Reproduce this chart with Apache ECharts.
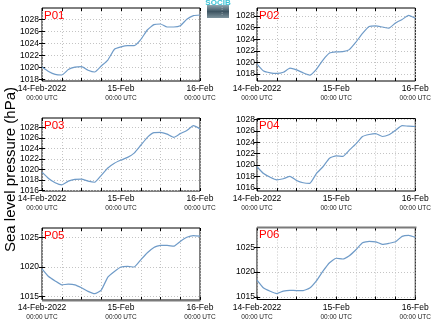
<!DOCTYPE html>
<html><head><meta charset="utf-8">
<script src="https://cdn.jsdelivr.net/npm/echarts@6/dist/echarts.min.js"></script>
<style>html,body{margin:0;padding:0;background:#fff}#c{width:434px;height:327px}</style>
</head><body><div id="c"></div><script>
// ---- data ----
const hours = [0,2,4,6,8,10,12,14,16,18,20,22,24,26,28,30,32,34,36,38,40,42,44,46,48];
const xTickLabels = ['14-Feb-2022','15-Feb','16-Feb'];
const xTickHours = [0,24,48];
const xSubLabel = '00:00 UTC';
const panelNames = ['P01','P02','P03','P04','P05','P06'];
const p01 = [1020.05,1019.3,1018.8,1018.7,1019.6,1020.0,1020.1,1019.5,1019.2,1020.2,1021.2,1023.0,1023.4,1023.6,1023.6,1024.6,1026.2,1027.1,1027.2,1026.7,1026.7,1026.9,1028.0,1028.6,1028.7];
const p02 = [1019.7,1018.5,1018.2,1018.1,1018.3,1019.0,1018.7,1018.2,1017.8,1018.8,1020.4,1021.6,1021.8,1021.85,1022.2,1023.5,1025.0,1026.2,1026.3,1026.1,1025.9,1026.8,1027.4,1028.1,1027.6];
const p03 = [1019.5,1018.3,1017.5,1017.1,1017.8,1018.15,1018.2,1017.8,1017.6,1018.9,1020.3,1021.2,1021.8,1022.3,1023.1,1024.6,1026.1,1027.0,1027.05,1026.7,1026.1,1026.8,1027.4,1028.3,1027.7];
const p04 = [1019.7,1018.5,1017.85,1017.4,1017.6,1018.0,1017.3,1016.9,1016.8,1018.5,1019.7,1021.2,1021.6,1021.5,1022.6,1023.7,1025.0,1025.35,1025.5,1025.0,1025.3,1026.1,1026.9,1026.8,1026.75];
const p05 = [1019.7,1018.4,1017.65,1017.0,1017.1,1017.0,1016.5,1015.9,1015.5,1016.1,1018.3,1019.25,1020.0,1020.1,1020.0,1021.2,1022.4,1023.3,1023.65,1023.65,1023.5,1024.3,1025.0,1025.3,1025.2];
const p06 = [1018.4,1016.8,1016.15,1015.7,1016.2,1016.35,1016.3,1016.3,1016.8,1018.25,1020.2,1021.9,1022.8,1022.65,1023.3,1024.5,1025.9,1026.2,1026.1,1025.6,1025.8,1026.1,1027.2,1027.4,1027.0];
const yTicks01 = [1018,1020,1022,1024,1026,1028];
const yTicks02 = [1018,1020,1022,1024,1026,1028];
const yTicks03 = [1016,1018,1020,1022,1024,1026,1028];
const yTicks04 = [1016,1018,1020,1022,1024,1026,1028];
const yTicks05 = [1015,1020,1025];
const yTicks06 = [1015,1020,1025];
const yTitle = 'Sea level pressure (hPa)';
const logoText = 'SOCIB';

// ---- layout ----
const series = [p01,p02,p03,p04,p05,p06];
const ticks = [yTicks01,yTicks02,yTicks03,yTicks04,yTicks05,yTicks06];
const boxes = [
  {left:42, top:8, width:158, height:73, ymin:1017.7, ymax:1029.87},
  {left:257, top:8, width:159, height:73, ymin:1016.79, ymax:1029.38},
  {left:42, top:118, width:158, height:73, ymin:1015.94, ymax:1029.76},
  {left:257, top:118.5, width:159, height:72.5, ymin:1015.45, ymax:1028.15},
  {left:42, top:228, width:158, height:72, ymin:1014.44, ymax:1026.57},
  {left:257, top:227.5, width:159, height:72, ymin:1014.5, ymax:1028.98}
];
const FONT = 'Liberation Sans';
const gridLine = {show:true, lineStyle:{color:'#c4c4c4', width:1, type:[1,2]}};
const tickStyle = {show:true, inside:true, length:3, lineStyle:{color:'#000', width:1}};

const grid=[], xAxis=[], yAxis=[], sers=[], graphic=[];
boxes.forEach((b,i)=>{
  grid.push({left:b.left, top:b.top, width:b.width, height:b.height, show:true, borderColor:'#000', borderWidth:1, backgroundColor:'transparent', containLabel:false});
  xAxis.push({gridIndex:i, type:'value', min:0, max:48, interval:6, position:'bottom',
    axisLine:{show:false}, axisTick:tickStyle, splitLine:gridLine,
    axisLabel:{show:true, margin:3, showMinLabel:true, showMaxLabel:true, hideOverlap:false,
      formatter:v=>{const k=xTickHours.indexOf(v); return k<0?'':`{a|${xTickLabels[k]}}\n{b|${xSubLabel}}`;},
      rich:{a:{fontFamily:FONT, fontSize:8.5, color:'#000', lineHeight:10, align:'center'},
            b:{fontFamily:FONT, fontSize:6.5, color:'#222', lineHeight:9, align:'center'}}}
  });
  xAxis.push({gridIndex:i, type:'value', min:0, max:48, interval:6, position:'top',
    axisLine:{show:false}, axisTick:tickStyle, splitLine:{show:false}, axisLabel:{show:false}});
  yAxis.push({gridIndex:i, type:'value', min:b.ymin, max:b.ymax, position:'left',
    axisLine:{show:false}, axisTick:Object.assign({customValues:ticks[i]}, tickStyle), splitLine:gridLine,
    axisLabel:{customValues:ticks[i], formatter:v=>String(Math.round(v)), margin:i%2?2:3, fontFamily:FONT, fontSize:8.5, color:'#000'}});
  yAxis.push({gridIndex:i, type:'value', min:b.ymin, max:b.ymax, position:'right',
    axisLine:{show:false}, axisTick:Object.assign({customValues:ticks[i]}, tickStyle), splitLine:{show:false}, axisLabel:{show:false}});
  sers.push({type:'line', xAxisIndex:2*i, yAxisIndex:2*i, data:hours.map((h,k)=>[h, series[i][k]]),
    showSymbol:false, smooth:0.15, lineStyle:{color:'#6f9bc8', width:1.2}, animation:false, silent:true});
  graphic.push({type:'text', left:b.left+2, top:b.top+1.5, z:100,
    style:{text:panelNames[i], fill:'#ff0000', font:'11.5px "Liberation Sans"'}});
});
graphic.push({type:'text', x:11, y:169.5, rotation:Math.PI/2,
  style:{text:yTitle, fill:'#000', font:'15px "Liberation Sans"', align:'center', verticalAlign:'middle'}});
graphic.push({type:'rect', shape:{x:42, y:299.5, width:158.5, height:2}, style:{fill:'#7a7a7a'}, z:50});
graphic.push({type:'rect', shape:{x:257, y:226.5, width:159.5, height:2}, style:{fill:'#7a7a7a'}, z:50});
// logo
graphic.push({type:'rect', shape:{x:207, y:5, width:22, height:13},
  style:{fill:new echarts.graphic.LinearGradient(0,0,0,1,[{offset:0,color:'#8fa6b0'},{offset:0.5,color:'#3d5461'},{offset:1,color:'#7d939d'}])}});
graphic.push({type:'text', x:218, y:-1, style:{text:logoText, fill:'#3cc4d6', font:'bold 8px "Liberation Sans"', align:'center', verticalAlign:'top'}});
graphic.push({type:'text', x:222, y:6, style:{text:':\n:', fill:'#ffffff', font:'6px "Liberation Sans"', align:'center', verticalAlign:'top', lineHeight:5}});

const chart = echarts.init(document.getElementById('c'), null, {renderer:'canvas', width:434, height:327});
chart.setOption({animation:false, backgroundColor:'#fff', grid, xAxis, yAxis, series:sers, graphic});
</script></body></html>
